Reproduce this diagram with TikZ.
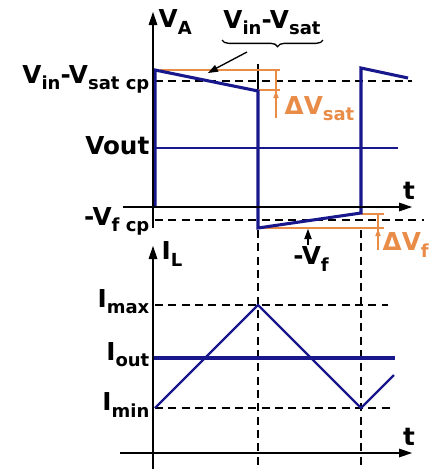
\documentclass[tikz,border=0pt]{standalone}
\usepackage{fontspec}
\setmainfont{DejaVu Sans}
\usetikzlibrary{decorations.pathreplacing}
\definecolor{wavblue}{RGB}{24,24,140}
\definecolor{dimorange}{RGB}{232,140,72}
\newcommand{\lowtxt}[1]{\raisebox{-0.45ex}{\fontsize{13.5}{13.5}\selectfont #1}}
\tikzset{every picture/.style={line width=1pt}}
\tikzset{
  wave/.style={draw=wavblue, line width=2.3pt, line join=miter},
  levelline/.style={draw=wavblue, line width=1.5pt},
  dashline/.style={dash pattern=on 6pt off 4pt, line width=1pt},
  dimline/.style={draw=dimorange, line width=0.9pt},
  lbl/.style={inner sep=0.75pt, font=\fontsize{18.5}{18.5}\selectfont\bfseries},
  dimlbl/.style={lbl, text=dimorange},
}

\begin{document}
\begin{tikzpicture}[x=0.75pt,y=0.75pt,yscale=-1,xscale=1]
\useasboundingbox (0,0) rectangle (434,469);

%Dashed levels
\draw [dashline] (155,81) -- (412,81) ;
\draw [dashline] (155,220) -- (424,220) ;
\draw [dashline] (155,305) -- (388,305) ;
\draw [dashline] (155,408) -- (390,408) ;
%Dashed verticals
\draw [dashline] (258,230) -- (258,469) ;
\draw [dashline] (361,230) -- (361,469) ;
\draw    (258,64) -- (258,92) ;

%Orange dimension lines
\draw [dimline] (160,70) -- (280,70) ;
\draw [dimline] (258,90) -- (280,90) ;
\draw [dimline] (276,70) -- (276,118) ;
\draw [shift={(276,91)}, rotate = 90] [fill=dimorange][line width=0.08]  [draw opacity=0] (7,-2.8) -- (0,0) -- (7,2.8) -- cycle    ;
\draw [dimline] (258,228) -- (384,228) ;
\draw [dimline] (361,214) -- (384,214) ;
\draw [dimline] (378,214) -- (378,250) ;
\draw [shift={(378,229)}, rotate = 90] [fill=dimorange][line width=0.08]  [draw opacity=0] (7,-2.8) -- (0,0) -- (7,2.8) -- cycle    ;

%Output levels
\draw [levelline] (155,148) -- (398,148) ;
\draw [wave] (153,358) -- (395,358) ;

%Switch node voltage
\draw [wave] (155,207) -- (155,70) -- (258,91) -- (258,228) -- (361,213) -- (361,68) -- (408,78) ;
%Inductor current
\draw [draw=wavblue, line width=1.8pt] (155,408) -- (258,305) -- (361,408) -- (394,375) ;

%Axes
\draw    (153,228) -- (153,22) ;
\draw [shift={(153,12)}, rotate = 90] [fill={rgb, 255:red, 0; green, 0; blue, 0 }  ][line width=0.08]  [draw opacity=0] (13,-4.5) -- (0,0) -- (13,4.5) -- cycle    ;
\draw    (153,469) -- (153,256) ;
\draw [shift={(153,246)}, rotate = 90] [fill={rgb, 255:red, 0; green, 0; blue, 0 }  ][line width=0.08]  [draw opacity=0] (13,-4.5) -- (0,0) -- (13,4.5) -- cycle    ;
\draw    (123,207) -- (402,207) ;
\draw [shift={(412,207)}, rotate = 180] [fill={rgb, 255:red, 0; green, 0; blue, 0 }  ][line width=0.08]  [draw opacity=0] (13,-4.5) -- (0,0) -- (13,4.5) -- cycle    ;
\draw    (120,453) -- (402,453) ;
\draw [shift={(412,453)}, rotate = 180] [fill={rgb, 255:red, 0; green, 0; blue, 0 }  ][line width=0.08]  [draw opacity=0] (13,-4.5) -- (0,0) -- (13,4.5) -- cycle    ;

% Text Node
\node [lbl, anchor=west] (va) at (157,22) {V\lowtxt{A}};
% Text Node
\node [lbl, anchor=west] (il) at (160,254) {I\lowtxt{L}};
% Text Node
\node [lbl] (tup) at (409,191) {t};
% Text Node
\node [lbl] (tdown) at (409,437) {t};
% Text Node
\node [lbl, anchor=east] (vsatcp) at (151,79) {V\lowtxt{in}-V\lowtxt{sat cp}};
% Text Node
\node [lbl, anchor=east] (vout) at (151,146) {Vout};
% Text Node
\node [lbl, anchor=east] (vfcp) at (151,221) {-V\lowtxt{f cp}};
% Text Node
\node [lbl, anchor=east] (imax) at (151,302) {I\lowtxt{max}};
% Text Node
\node [lbl, anchor=east] (iout) at (151,355) {I\lowtxt{out}};
% Text Node
\node [lbl, anchor=east] (imin) at (151,405) {I\lowtxt{min}};
% Text Node
\node [lbl] (vinsat) at (272,23) {V\lowtxt{in}-V\lowtxt{sat}};
% Text Node
\node [dimlbl, anchor=west] (dvsat) at (283,109) {ΔV\lowtxt{sat}};
% Text Node
\node [dimlbl, anchor=west] (dvf) at (381,245) {ΔV\lowtxt{f}};
% Text Node
\node [lbl] (vf) at (311,259) {-V\lowtxt{f}};

%Brace and pointers
\draw [decorate, decoration={brace, mirror, amplitude=5, aspect=0.55}] (222,40) -- (323,40) ;
\coordinate (bracetip) at (247,52) ;
\coordinate (slopept) at (211,71) ;
\draw    (bracetip) -- (slopept) ;
\draw [shift={(208,73)}, rotate = 331.7] [fill={rgb, 255:red, 0; green, 0; blue, 0 }  ][line width=0.08]  [draw opacity=0] (10,-3.8) -- (0,0) -- (10,3.8) -- cycle    ;
\coordinate (vfpt) at (308,229) ;
\draw    (vf.north -| vfpt) -- (308,236) ;
\draw [shift={(vfpt)}, rotate = 90] [fill={rgb, 255:red, 0; green, 0; blue, 0 }  ][line width=0.08]  [draw opacity=0] (10,-3.8) -- (0,0) -- (10,3.8) -- cycle    ;

\end{tikzpicture}
\end{document}
